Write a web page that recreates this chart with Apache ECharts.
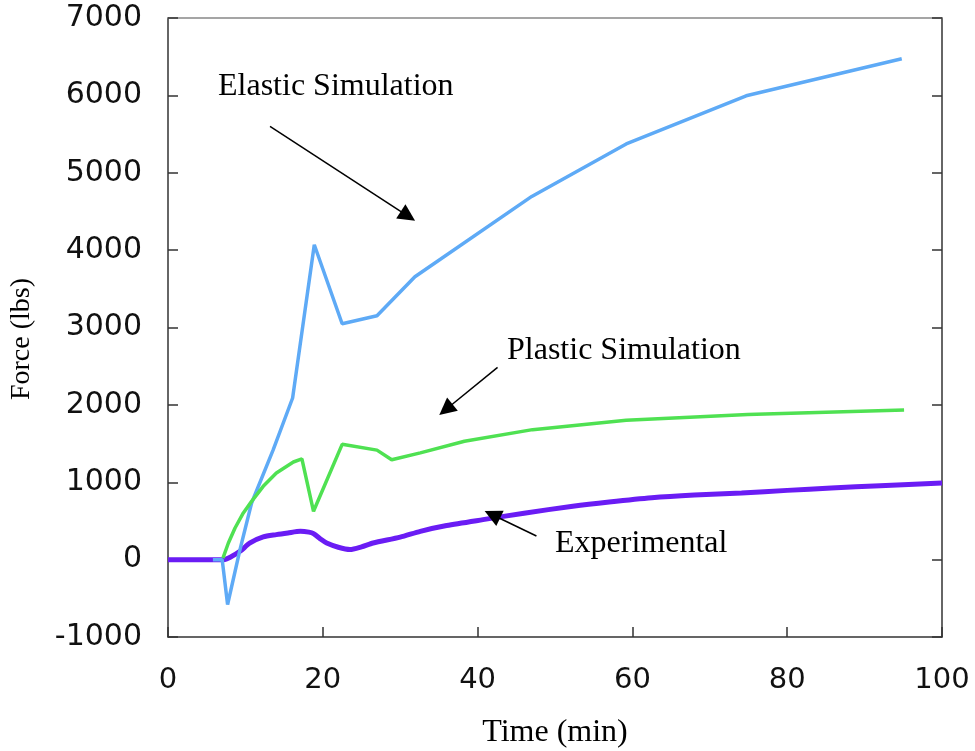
<!DOCTYPE html>
<html>
<head>
<meta charset="utf-8">
<script src="https://cdn.jsdelivr.net/npm/echarts@6/dist/echarts.min.js"></script>
<style>
  html, body { margin: 0; padding: 0; background: #fff; }
  #chart { width: 975px; height: 751px; }
</style>
</head>
<body>
<div id="chart"></div>
<script>
// Time (min), force (lbs) pairs for each curve
const experimental = [
  [0, 0], [5, 0], [7.2, 0], [8.2, 40], [9.3, 107], [10.6, 215], [12.3, 293],
  [14, 323], [15.5, 345], [17.1, 366], [18.2, 355], [18.8, 336], [19.8, 260], [20.5, 215],
  [22, 160], [23.5, 130], [25, 165], [26.5, 215], [30, 290], [32.6, 366], [36, 440],
  [40.7, 517], [46, 600], [52.3, 690], [57, 745], [62.5, 800], [68, 835], [74.1, 862],
  [80, 895], [85.7, 926], [92, 955], [100, 990]
];
const elastic = [
  [5.8, 0], [7.0, 0], [7.7, -580], [9.3, 130], [10.8, 732], [13.6, 1421], [16.1, 2089],
  [18.9, 4070], [22.5, 3049], [27.0, 3152], [31.9, 3656], [47.0, 4694], [59.2, 5372],
  [74.7, 5995], [94.8, 6473]
];
const plastic = [
  [7.1, 20], [7.24, 43], [7.8, 215], [8.66, 409], [9.73, 603], [10.8, 753], [12.3, 947],
  [14.0, 1120], [16.2, 1262], [17.3, 1301], [18.8, 625], [22.5, 1490], [27.0, 1415],
  [28.9, 1290], [32.6, 1380], [38.3, 1530], [47.1, 1680], [59.2, 1800], [74.9, 1875],
  [95.1, 1934]
];

// Annotation arrows: [start, tip] in (time, force)
const arrowElastic = [[13.18, 5600], [31.0, 4440]];
const arrowPlastic = [[42.58, 2485], [35.9, 1940]];
const arrowExperimental = [[47.6, 305], [41.9, 580]];

const xTicks = { min: 0, max: 100, step: 20 };
const yTicks = { min: -1000, max: 7000, step: 1000 };

const serif = '"Liberation Serif", "Times New Roman", serif';
const sans = '"DejaVu Sans", Verdana, sans-serif';
const frame = '#333';

const chart = echarts.init(document.getElementById('chart'), null, { renderer: 'canvas' });

const arrowLine = (pair) => [{ coord: pair[0] }, { coord: pair[1] }];

chart.setOption({
  backgroundColor: '#fff',
  animation: false,
  grid: { left: 168, right: 33, top: 18, bottom: 114, containLabel: false, outerBoundsMode: 'none' },
  xAxis: [
    {
      type: 'value', position: 'bottom',
      min: xTicks.min, max: xTicks.max, interval: xTicks.step,
      name: 'Time (min)', nameLocation: 'middle', nameGap: 80,
      nameTextStyle: { fontFamily: serif, fontSize: 32, color: '#000' },
      axisLine: { show: true, onZero: false, lineStyle: { color: frame, width: 1.5 } },
      axisTick: { show: true, inside: true, length: 10, lineStyle: { color: frame, width: 1.5 } },
      axisLabel: { fontFamily: sans, fontSize: 29, color: '#111', margin: 29,
        formatter: (v) => String(v) },
      splitLine: { show: false }
    },
    {
      type: 'value', position: 'top',
      min: xTicks.min, max: xTicks.max, interval: xTicks.step,
      axisLine: { show: true, onZero: false, lineStyle: { color: '#888', width: 1.5 } },
      axisTick: { show: false },
      axisLabel: { show: false },
      splitLine: { show: false }
    }
  ],
  yAxis: [
    {
      type: 'value', position: 'left',
      min: yTicks.min, max: yTicks.max, interval: yTicks.step,
      axisLine: { show: true, onZero: false, lineStyle: { color: frame, width: 1.5 } },
      axisTick: { show: true, inside: true, length: 10, lineStyle: { color: frame, width: 1.5 } },
      axisLabel: { fontFamily: sans, fontSize: 30, color: '#111', margin: 26,
        formatter: (v) => String(v) },
      splitLine: { show: false }
    },
    {
      type: 'value', position: 'right',
      min: yTicks.min, max: yTicks.max, interval: yTicks.step,
      axisLine: { show: true, onZero: false, lineStyle: { color: frame, width: 1.5 } },
      axisTick: { show: true, inside: true, length: 10, lineStyle: { color: frame, width: 1.5 } },
      axisLabel: { show: false },
      splitLine: { show: false }
    }
  ],
  series: [
    {
      name: 'Experimental', type: 'line', data: experimental,
      showSymbol: false, smooth: 0.25, z: 2,
      lineStyle: { color: '#6a1cf4', width: 5 }
    },
    {
      name: 'Elastic Simulation', type: 'line', data: elastic,
      showSymbol: false, z: 3,
      lineStyle: { color: '#5eaaf6', width: 3.5 }
    },
    {
      name: 'Plastic Simulation', type: 'line', data: plastic,
      showSymbol: false, z: 4,
      lineStyle: { color: '#4fe152', width: 3.5 },
      markLine: {
        silent: true,
        symbol: ['none', 'triangle'],
        symbolSize: 17,
        label: { show: false },
        emphasis: { disabled: true },
        lineStyle: { color: '#000', width: 1.5, type: 'solid' },
        data: [arrowLine(arrowElastic), arrowLine(arrowPlastic), arrowLine(arrowExperimental)]
      }
    }
  ],
  graphic: [
    { type: 'text', x: 22, y: 339, rotation: Math.PI / 2,
      style: { text: 'Force (lbs)', font: '28px ' + serif, fill: '#000', align: 'center', verticalAlign: 'middle' } },
    { type: 'text', left: 218, top: 71, style: { text: 'Elastic Simulation', font: '32px ' + serif, fill: '#000' } },
    { type: 'text', left: 507, top: 335, style: { text: 'Plastic Simulation', font: '32px ' + serif, fill: '#000' } },
    { type: 'text', left: 555, top: 528, style: { text: 'Experimental', font: '32px ' + serif, fill: '#000' } }
  ]
});
</script>
</body>
</html>
